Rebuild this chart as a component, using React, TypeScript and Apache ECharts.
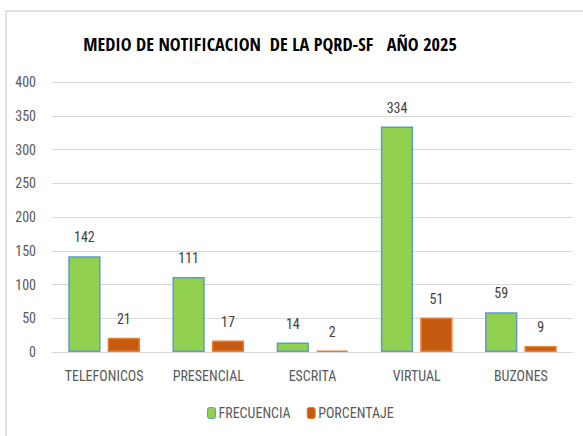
import React, { useEffect, useRef } from "react";
import * as echarts from "echarts";

const categories = ["TELEFONICOS", "PRESENCIAL", "ESCRITA", "VIRTUAL", "BUZONES"];
const frecuencia = [142, 111, 14, 334, 59];
const porcentaje = [21, 17, 2, 51, 9];
const titleText = "MEDIO DE NOTIFICACION  DE LA PQRD-SF   AÑO 2025";

const FONT = "'Roboto Condensed', 'DejaVu Sans Condensed', sans-serif";
const TITLE_FONT = "'Open Sans Condensed', 'Roboto Condensed', sans-serif";

export default function App() {
  const ref = useRef<HTMLDivElement>(null);
  useEffect(() => {
    const chart = echarts.init(ref.current!, null, { renderer: "svg" });
    chart.setOption({
      animation: false,
      textStyle: { fontFamily: FONT },
      graphic: [
        {
          type: "rect",
          shape: { x: 6, y: 11, width: 620, height: 460 },
          style: { fill: "none", stroke: "#D9D9D9", lineWidth: 1.5 },
          silent: true,
        },
      ],
      title: {
        text: titleText,
        left: 265,
        textAlign: "center",
        top: 30,
        textStyle: { fontFamily: TITLE_FONT, fontSize: 18.2, fontWeight: "bold", color: "#000" },
      },
      grid: { left: 52, right: 10, top: 82, bottom: 84, containLabel: false },
      legend: {
        bottom: 11,
        left: 202,
        itemWidth: 8,
        itemHeight: 11,
        itemGap: 16,
        textStyle: { fontFamily: FONT, fontSize: 14, color: "#595959", padding: [0, 0, 0, -2] },
        data: [
          { name: "FRECUENCIA", itemStyle: { color: "#92D050", borderColor: "#5B9BD5", borderWidth: 1 } },
          { name: "PORCENTAJE", itemStyle: { color: "#C55A11", borderColor: "#ED7D31", borderWidth: 1 } },
        ],
      },
      xAxis: {
        type: "category",
        data: categories,
        axisLine: { lineStyle: { color: "#D9D9D9" } },
        axisTick: { show: false },
        axisLabel: { fontFamily: FONT, fontSize: 14, color: "#595959", margin: 17, interval: 0 },
      },
      yAxis: {
        type: "value",
        min: 0,
        max: 400,
        interval: 50,
        axisLine: { show: false },
        axisTick: { show: false },
        splitLine: { lineStyle: { color: "#D9D9D9" } },
        axisLabel: { fontFamily: FONT, fontSize: 14, color: "#595959", margin: 16 },
      },
      series: [
        {
          name: "FRECUENCIA",
          type: "bar",
          data: frecuencia,
          barWidth: "31%",
          barGap: "22%",
          itemStyle: { color: "#92D050", borderColor: "#5B9BD5", borderWidth: 1.5 },
          label: { show: true, position: "top", distance: 12, fontFamily: FONT, fontSize: 14, color: "#404040" },
        },
        {
          name: "PORCENTAJE",
          type: "bar",
          data: porcentaje,
          barWidth: "31%",
          itemStyle: { color: "#C55A11", borderColor: "#ED7D31", borderWidth: 1.5 },
          label: { show: true, position: "top", distance: 12, fontFamily: FONT, fontSize: 14, color: "#404040" },
        },
      ],
    });
    return () => chart.dispose();
  }, []);
  return <div ref={ref} style={{ width: 583, height: 436, position: "absolute", left: 0, top: 0 }} />;
}
